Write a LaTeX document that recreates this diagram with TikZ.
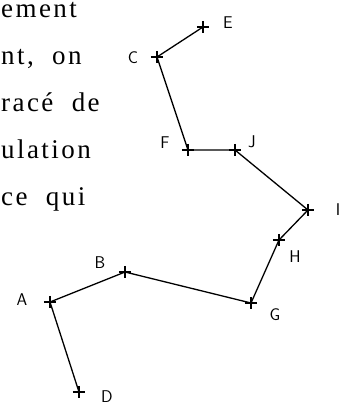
\documentclass[tikz,border=0pt]{standalone}
\usepackage{fontspec}
\newfontfamily\textefont{Liberation Serif}[LetterSpace=9, WordSpace=2]
\usepackage{tikz}
\usetikzlibrary{calc}
\tikzset{pointe/.style={inner sep=0pt, minimum size=12pt}}
\tikzset{croix/.style={line width=1.8pt}}
\tikzset{trait/.style={line width=1.3pt}}
\tikzset{lettre/.style={inner sep=0pt, font=\fontsize{17}{17}\selectfont\sffamily}}
\tikzset{texte/.style={anchor=base west, inner sep=0pt,
  font=\textefont\fontsize{27}{27}\selectfont}}

\begin{document}
\begin{tikzpicture}[x=1pt, y=-1pt]
  \useasboundingbox (0,0) rectangle (347,405);

  % Fin des lignes du texte (coupé a gauche)
  \node[texte] (t1) at (1,17) {ement};
  \node[texte] (t2) at (1,64) {nt, on};
  \node[texte] (t3) at (1,111) {racé de};
  \node[texte] (t4) at (1,158) {ulation};
  \node[texte] (t5) at (1,205) {ce qui};

  % Les points
  \node[pointe] (A) at (50,302) {};
  \node[pointe] (B) at (125,272) {};
  \node[pointe] (C) at (157,57) {};
  \node[pointe] (D) at (79,392) {};
  \node[pointe] (E) at (203,27) {};
  \node[pointe] (F) at (188,150) {};
  \node[pointe] (G) at (251,303) {};
  \node[pointe] (H) at (279,240) {};
  \node[pointe] (I) at (308,210) {};
  \node[pointe] (J) at (235,150) {};

  % Les lettres
  \node[lettre] (lA) at ($(A)+(-28,-2)$) {A};
  \node[lettre] (lB) at ($(B)+(-25,-9)$) {B};
  \node[lettre] (lC) at ($(C)+(-24,1)$) {C};
  \node[lettre] (lD) at ($(D)+(28,5)$) {D};
  \node[lettre] (lE) at ($(E)+(25,-4)$) {E};
  \node[lettre] (lF) at ($(F)+(-23,-7)$) {F};
  \node[lettre] (lG) at ($(G)+(24,12)$) {G};
  \node[lettre] (lH) at ($(H)+(16,17)$) {H};
  \node[lettre] (lI) at ($(I)+(30,0)$) {I};
  \node[lettre] (lJ) at ($(J)+(17,-8)$) {J};

  % Le tracé
  \draw[trait] (E.center) -- (C.center) -- (F.center) -- (J.center) -- (I.center)
    -- (H.center) -- (G.center) -- (B.center) -- (A.center) -- (D.center);
  \foreach \p in {A,...,J}
    \draw[croix] (\p.west) -- (\p.east) (\p.north) -- (\p.south);
\end{tikzpicture}
\end{document}
